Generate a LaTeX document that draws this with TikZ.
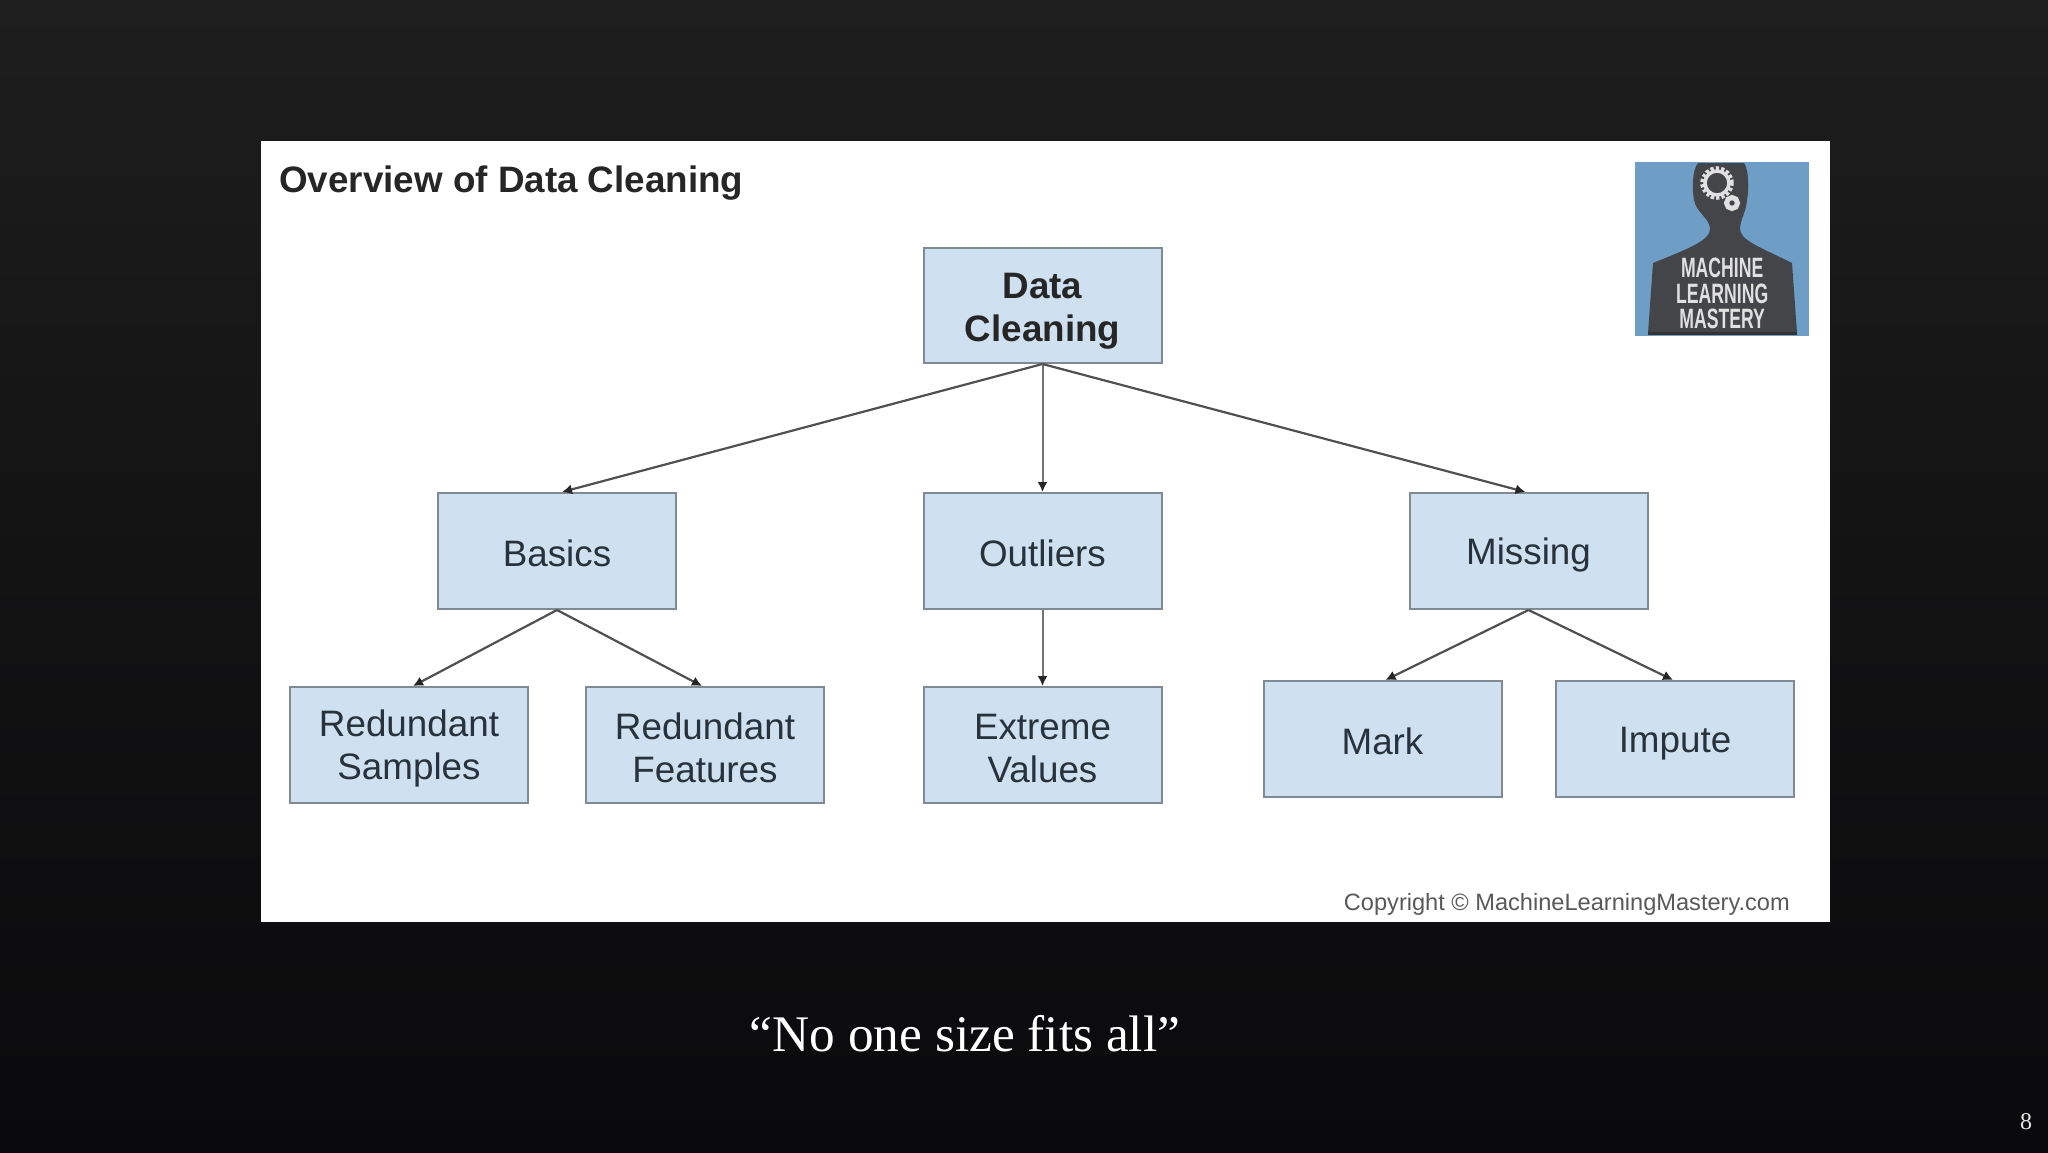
\documentclass[tikz,border=0pt]{standalone}
\usepackage{fontspec}
\setmainfont{Liberation Sans}
\newfontfamily\serifq{Liberation Serif}
\usetikzlibrary{arrows.meta}
\definecolor{bgtop}{HTML}{1E1E1E}
\definecolor{bgmid}{HTML}{141415}
\definecolor{bgbot}{HTML}{0A0A0C}
\definecolor{boxfill}{HTML}{CFE0F1}
\definecolor{boxline}{HTML}{808A95}
\definecolor{boxtext}{HTML}{28323C}
\definecolor{arrowc}{HTML}{505050}
\definecolor{logoblue}{HTML}{6E9EC6}
\definecolor{logodark}{HTML}{444548}
\newcommand{\st}{\rule[-3pt]{0pt}{37pt}}
\newcommand{\stb}{\rule[-1pt]{0pt}{37pt}}
\tikzset{
  x=1pt,y=-1pt,
  cbox/.style={draw=boxline,line width=2pt,fill=boxfill,text=boxtext,inner sep=0pt,
    minimum width=238pt,minimum height=116pt,align=center,
    font=\fontsize{36.8}{43}\selectfont},
  cboxb/.style={cbox,minimum height=115pt,font=\fontsize{36.8}{43}\selectfont\bfseries,text=black!85},
  link/.style={draw=arrowc,line width=2.2pt,-{Latex[length=10pt,width=10pt,color=black!85]}},
  linkv/.style={link,draw=black!55,line width=2pt},
  logotxt/.style={text=white!88!black,inner sep=0pt,font=\fontsize{28}{28}\selectfont\bfseries,transform shape}
}
\begin{document}
\begin{tikzpicture}
\useasboundingbox (0,0) rectangle (2048,1152);
\path[top color=bgtop,bottom color=bgmid] (0,0) rectangle (2048,500);
\path[top color=bgmid,bottom color=bgbot] (0,500) rectangle (2048,1152);
\fill[white] (261,141) rectangle (1830,922);
% texts
\node[anchor=west,inner sep=0pt,text=black!85,font=\fontsize{36.8}{40}\selectfont\bfseries] (title) at (279,183.5) {Overview of Data Cleaning};
\node[anchor=east,inner sep=0pt,text=black!65,font=\fontsize{23.6}{26}\selectfont] (copy) at (1790,904) {Copyright © MachineLearningMastery.com};
\node[anchor=base,inner sep=0pt,text=white,font=\serifq\fontsize{51.3}{56}\selectfont] (quote) at (965,1051) {“No one size fits all”};
\node[anchor=center,inner sep=0pt,text=white!90!black,font=\serifq\fontsize{24}{26}\selectfont] (page) at (2026,1122) {8};
% boxes
\node[cboxb] (dc) at (1042.5,305.5) {\stb Data\\\stb Cleaning};
\node[cbox] (basics) at (557,551) {\st Basics};
\node[cbox] (outliers) at (1042.5,551) {\st Outliers};
\node[cbox] (missing) at (1528.5,551) {\st Missing};
\node[cbox] (rs) at (409,745) {\st Redundant\\\st Samples};
\node[cbox] (rf) at (705,745) {\st Redundant\\\st Features};
\node[cbox] (ev) at (1042.5,745) {\st Extreme\\\st Values};
\node[cbox] (mark) at (1382.5,739) {\st Mark};
\node[cbox] (impute) at (1675,739) {\st Impute};
% connectors
\draw[link] (dc.south) -- ([xshift=5pt]basics.north);
\draw[linkv] (dc.south) -- (outliers.north);
\draw[link] (dc.south) -- ([xshift=-3pt]missing.north);
\draw[link] (basics.south) -- ([xshift=4pt]rs.north);
\draw[link] (basics.south) -- ([xshift=-3pt]rf.north);
\draw[linkv] (outliers.south) -- (ev.north);
\draw[link] (missing.south) -- ([xshift=3pt]mark.north);
\draw[link] (missing.south) -- ([xshift=-2pt]impute.north);
% logo
\fill[logoblue] (1635,162) rectangle (1809,336);
\fill[logodark] (1698,163) .. controls (1692,170) and (1692,190) .. (1694,200)
  .. controls (1696,212) and (1709,218) .. (1710,228)
  .. controls (1711,240) and (1690,248) .. (1653,263)
  -- (1648,333) -- (1797,333) -- (1792,263)
  .. controls (1760,247) and (1739,240) .. (1740,228)
  .. controls (1741,218) and (1746,212) .. (1747,200)
  .. controls (1749,190) and (1749,170) .. (1744,163) -- cycle;
\fill[black!80] (1648,332) rectangle (1797,335);
\draw[white!88!black,line width=5.5pt,dash pattern=on 3pt off 2pt] (1717,183) circle (14pt);
\draw[white!88!black,line width=3.5pt] (1717,183) circle (12pt);
\draw[white!88!black,line width=5pt] (1732,203) circle (5.5pt);
\begin{scope}[xscale=0.63]
\node[logotxt] (lm) at (1722/0.63,268) {MACHINE};
\node[logotxt] (ll) at (1722/0.63,294) {LEARNING};
\node[logotxt] (lt) at (1722/0.63,319) {MASTERY};
\end{scope}
\end{tikzpicture}
\end{document}
